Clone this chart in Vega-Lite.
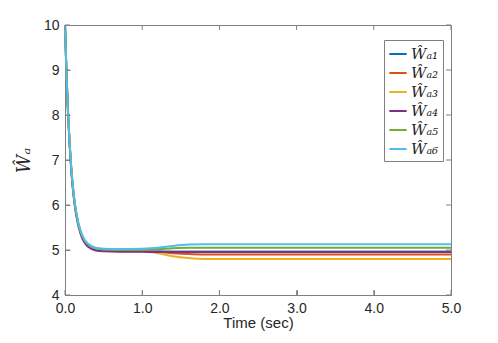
{
  "$schema": "https://vega.github.io/schema/vega-lite/v6.json",
  "width": 386,
  "height": 270,
  "autosize": "none",
  "padding": {"left": 65, "top": 25, "right": 47, "bottom": 48},
  "background": "white",
  "config": {
    "view": {"stroke": "#808080", "strokeWidth": 1},
    "axis": {"grid": false, "domainColor": "#808080", "domainWidth": 1, "tickColor": "#808080", "tickWidth": 1, "labelColor": "#262626", "titleColor": "#262626", "labelFont": "Liberation Sans", "titleFont": "Liberation Sans", "labelFontSize": 14, "titleFontSize": 15, "titleFontWeight": "normal"}
  },
  "datasets": {
    "xt": [{"t":0},{"t":1},{"t":2},{"t":3},{"t":4},{"t":5}],
    "yt": [{"v":4},{"v":5},{"v":6},{"v":7},{"v":8},{"v":9},{"v":10}],
    "d": [
    {"t":0,"s":"Ŵₐ₁","v":10},{"t":0.02,"s":"Ŵₐ₁","v":8.89},{"t":0.04,"s":"Ŵₐ₁","v":8.03},{"t":0.06,"s":"Ŵₐ₁","v":7.36},{"t":0.08,"s":"Ŵₐ₁","v":6.84},{"t":0.1,"s":"Ŵₐ₁","v":6.43},{"t":0.125,"s":"Ŵₐ₁","v":6.05},{"t":0.15,"s":"Ŵₐ₁","v":5.77},{"t":0.2,"s":"Ŵₐ₁","v":5.41},{"t":0.25,"s":"Ŵₐ₁","v":5.22},{"t":0.3,"s":"Ŵₐ₁","v":5.12},{"t":0.4,"s":"Ŵₐ₁","v":5.03},{"t":0.5,"s":"Ŵₐ₁","v":5.01},{"t":0.7,"s":"Ŵₐ₁","v":5.0},{"t":1.0,"s":"Ŵₐ₁","v":5.0},{"t":1.2,"s":"Ŵₐ₁","v":4.99},{"t":1.4,"s":"Ŵₐ₁","v":4.98},{"t":1.6,"s":"Ŵₐ₁","v":4.98},{"t":1.8,"s":"Ŵₐ₁","v":4.98},{"t":2.0,"s":"Ŵₐ₁","v":4.98},{"t":2.5,"s":"Ŵₐ₁","v":4.98},{"t":5,"s":"Ŵₐ₁","v":4.98},
    {"t":0,"s":"Ŵₐ₂","v":10},{"t":0.02,"s":"Ŵₐ₂","v":8.89},{"t":0.04,"s":"Ŵₐ₂","v":8.03},{"t":0.06,"s":"Ŵₐ₂","v":7.36},{"t":0.08,"s":"Ŵₐ₂","v":6.84},{"t":0.1,"s":"Ŵₐ₂","v":6.43},{"t":0.125,"s":"Ŵₐ₂","v":6.05},{"t":0.15,"s":"Ŵₐ₂","v":5.77},{"t":0.2,"s":"Ŵₐ₂","v":5.41},{"t":0.25,"s":"Ŵₐ₂","v":5.21},{"t":0.3,"s":"Ŵₐ₂","v":5.11},{"t":0.4,"s":"Ŵₐ₂","v":5.02},{"t":0.5,"s":"Ŵₐ₂","v":5.0},{"t":0.7,"s":"Ŵₐ₂","v":4.98},{"t":1.0,"s":"Ŵₐ₂","v":4.98},{"t":1.2,"s":"Ŵₐ₂","v":4.96},{"t":1.4,"s":"Ŵₐ₂","v":4.93},{"t":1.6,"s":"Ŵₐ₂","v":4.91},{"t":1.8,"s":"Ŵₐ₂","v":4.9},{"t":2.0,"s":"Ŵₐ₂","v":4.9},{"t":2.5,"s":"Ŵₐ₂","v":4.9},{"t":5,"s":"Ŵₐ₂","v":4.9},
    {"t":0,"s":"Ŵₐ₃","v":10},{"t":0.02,"s":"Ŵₐ₃","v":8.89},{"t":0.04,"s":"Ŵₐ₃","v":8.03},{"t":0.06,"s":"Ŵₐ₃","v":7.36},{"t":0.08,"s":"Ŵₐ₃","v":6.84},{"t":0.1,"s":"Ŵₐ₃","v":6.43},{"t":0.125,"s":"Ŵₐ₃","v":6.05},{"t":0.15,"s":"Ŵₐ₃","v":5.77},{"t":0.2,"s":"Ŵₐ₃","v":5.41},{"t":0.25,"s":"Ŵₐ₃","v":5.21},{"t":0.3,"s":"Ŵₐ₃","v":5.11},{"t":0.4,"s":"Ŵₐ₃","v":5.02},{"t":0.5,"s":"Ŵₐ₃","v":5.0},{"t":0.7,"s":"Ŵₐ₃","v":4.98},{"t":1.0,"s":"Ŵₐ₃","v":4.97},{"t":1.2,"s":"Ŵₐ₃","v":4.93},{"t":1.4,"s":"Ŵₐ₃","v":4.86},{"t":1.6,"s":"Ŵₐ₃","v":4.82},{"t":1.8,"s":"Ŵₐ₃","v":4.8},{"t":2.0,"s":"Ŵₐ₃","v":4.8},{"t":2.5,"s":"Ŵₐ₃","v":4.8},{"t":5,"s":"Ŵₐ₃","v":4.8},
    {"t":0,"s":"Ŵₐ₄","v":10},{"t":0.02,"s":"Ŵₐ₄","v":8.87},{"t":0.04,"s":"Ŵₐ₄","v":8.0},{"t":0.06,"s":"Ŵₐ₄","v":7.33},{"t":0.08,"s":"Ŵₐ₄","v":6.8},{"t":0.1,"s":"Ŵₐ₄","v":6.39},{"t":0.125,"s":"Ŵₐ₄","v":6.01},{"t":0.15,"s":"Ŵₐ₄","v":5.73},{"t":0.2,"s":"Ŵₐ₄","v":5.37},{"t":0.25,"s":"Ŵₐ₄","v":5.17},{"t":0.3,"s":"Ŵₐ₄","v":5.07},{"t":0.4,"s":"Ŵₐ₄","v":4.99},{"t":0.5,"s":"Ŵₐ₄","v":4.97},{"t":0.7,"s":"Ŵₐ₄","v":4.96},{"t":1.0,"s":"Ŵₐ₄","v":4.96},{"t":1.2,"s":"Ŵₐ₄","v":4.955},{"t":1.4,"s":"Ŵₐ₄","v":4.955},{"t":1.6,"s":"Ŵₐ₄","v":4.955},{"t":1.8,"s":"Ŵₐ₄","v":4.955},{"t":2.0,"s":"Ŵₐ₄","v":4.955},{"t":2.5,"s":"Ŵₐ₄","v":4.955},{"t":5,"s":"Ŵₐ₄","v":4.955},
    {"t":0,"s":"Ŵₐ₅","v":10},{"t":0.02,"s":"Ŵₐ₅","v":8.89},{"t":0.04,"s":"Ŵₐ₅","v":8.03},{"t":0.06,"s":"Ŵₐ₅","v":7.36},{"t":0.08,"s":"Ŵₐ₅","v":6.84},{"t":0.1,"s":"Ŵₐ₅","v":6.43},{"t":0.125,"s":"Ŵₐ₅","v":6.05},{"t":0.15,"s":"Ŵₐ₅","v":5.77},{"t":0.2,"s":"Ŵₐ₅","v":5.41},{"t":0.25,"s":"Ŵₐ₅","v":5.22},{"t":0.3,"s":"Ŵₐ₅","v":5.12},{"t":0.4,"s":"Ŵₐ₅","v":5.03},{"t":0.5,"s":"Ŵₐ₅","v":5.01},{"t":0.7,"s":"Ŵₐ₅","v":5.0},{"t":1.0,"s":"Ŵₐ₅","v":5.01},{"t":1.2,"s":"Ŵₐ₅","v":5.02},{"t":1.4,"s":"Ŵₐ₅","v":5.04},{"t":1.6,"s":"Ŵₐ₅","v":5.05},{"t":1.8,"s":"Ŵₐ₅","v":5.05},{"t":2.0,"s":"Ŵₐ₅","v":5.05},{"t":2.5,"s":"Ŵₐ₅","v":5.05},{"t":5,"s":"Ŵₐ₅","v":5.05},
    {"t":0,"s":"Ŵₐ₆","v":10},{"t":0.02,"s":"Ŵₐ₆","v":8.91},{"t":0.04,"s":"Ŵₐ₆","v":8.06},{"t":0.06,"s":"Ŵₐ₆","v":7.39},{"t":0.08,"s":"Ŵₐ₆","v":6.87},{"t":0.1,"s":"Ŵₐ₆","v":6.46},{"t":0.125,"s":"Ŵₐ₆","v":6.08},{"t":0.15,"s":"Ŵₐ₆","v":5.8},{"t":0.2,"s":"Ŵₐ₆","v":5.44},{"t":0.25,"s":"Ŵₐ₆","v":5.24},{"t":0.3,"s":"Ŵₐ₆","v":5.14},{"t":0.4,"s":"Ŵₐ₆","v":5.05},{"t":0.5,"s":"Ŵₐ₆","v":5.03},{"t":0.7,"s":"Ŵₐ₆","v":5.02},{"t":1.0,"s":"Ŵₐ₆","v":5.03},{"t":1.2,"s":"Ŵₐ₆","v":5.05},{"t":1.4,"s":"Ŵₐ₆","v":5.09},{"t":1.6,"s":"Ŵₐ₆","v":5.12},{"t":1.8,"s":"Ŵₐ₆","v":5.13},{"t":2.0,"s":"Ŵₐ₆","v":5.13},{"t":2.5,"s":"Ŵₐ₆","v":5.13},{"t":5,"s":"Ŵₐ₆","v":5.13}
  ]},
  "layer": [
    {
      "data": {"name": "d"},
      "transform": [{"filter": "datum.s === 'Ŵₐ₁'"}],
      "mark": {"type": "line", "interpolate": "monotone", "strokeWidth": 0.7},
      "encoding": {
        "x": {"field": "t", "type": "quantitative", "scale": {"domain": [0, 5], "nice": false}, "axis": {"values": [0,1,2,3,4,5], "tickSize": -5, "labelPadding": 11, "title": "Time (sec)", "titlePadding": 0, "labelFlush": false}},
        "y": {"field": "v", "type": "quantitative", "scale": {"domain": [4, 10], "nice": false, "zero": false}, "axis": {"values": [4,5,6,7,8,9,10], "tickSize": -5, "labelPadding": 11, "title": "Ŵₐ", "titleFont": "DejaVu Serif", "titleFontStyle": "italic", "titleFontSize": 18, "titlePadding": 10, "labelFlush": false}},
        "color": {"field": "s", "type": "nominal", "scale": {"domain": ["Ŵₐ₁","Ŵₐ₂","Ŵₐ₃","Ŵₐ₄","Ŵₐ₅","Ŵₐ₆"], "range": ["#0072BD","#D95319","#EDB120","#7E2F8E","#77AC30","#4DBEEE"]},
          "legend": {"title": null, "orient": "none", "legendX": 319, "legendY": 15, "symbolType": "stroke", "symbolStrokeWidth": 2, "symbolSize": 300, "labelFont": "DejaVu Serif", "labelFontStyle": "italic", "labelFontSize": 15, "labelColor": "#262626", "strokeColor": "#808080", "fillColor": "white", "padding": 4, "rowPadding": 1, "labelOffset": 3}}
      }
    },
    {
      "data": {"name": "d"},
      "transform": [{"filter": "datum.s !== 'Ŵₐ₁'"}],
      "mark": {"type": "line", "interpolate": "monotone", "strokeWidth": 2},
      "encoding": {
        "x": {"field": "t", "type": "quantitative"},
        "y": {"field": "v", "type": "quantitative"},
        "color": {"field": "s", "type": "nominal"}
      }
    },
    {
      "data": {"name": "xt"},
      "mark": {"type": "rule", "color": "#808080", "strokeWidth": 1, "y2Offset": -5},
      "encoding": {
        "x": {"field": "t", "type": "quantitative"},
        "y": {"datum": 4},
        "y2": {"datum": 4}
      }
    },
    {
      "data": {"name": "xt"},
      "mark": {"type": "rule", "color": "#808080", "strokeWidth": 1, "y2Offset": 5},
      "encoding": {
        "x": {"field": "t", "type": "quantitative"},
        "y": {"datum": 10},
        "y2": {"datum": 10}
      }
    },
    {
      "data": {"name": "yt"},
      "mark": {"type": "rule", "color": "#808080", "strokeWidth": 1, "x2Offset": 5},
      "encoding": {
        "y": {"field": "v", "type": "quantitative"},
        "x": {"datum": 0},
        "x2": {"datum": 0}
      }
    },
    {
      "data": {"name": "yt"},
      "mark": {"type": "rule", "color": "#808080", "strokeWidth": 1, "x2Offset": -5},
      "encoding": {
        "y": {"field": "v", "type": "quantitative"},
        "x": {"datum": 5},
        "x2": {"datum": 5}
      }
    }
  ]
}
